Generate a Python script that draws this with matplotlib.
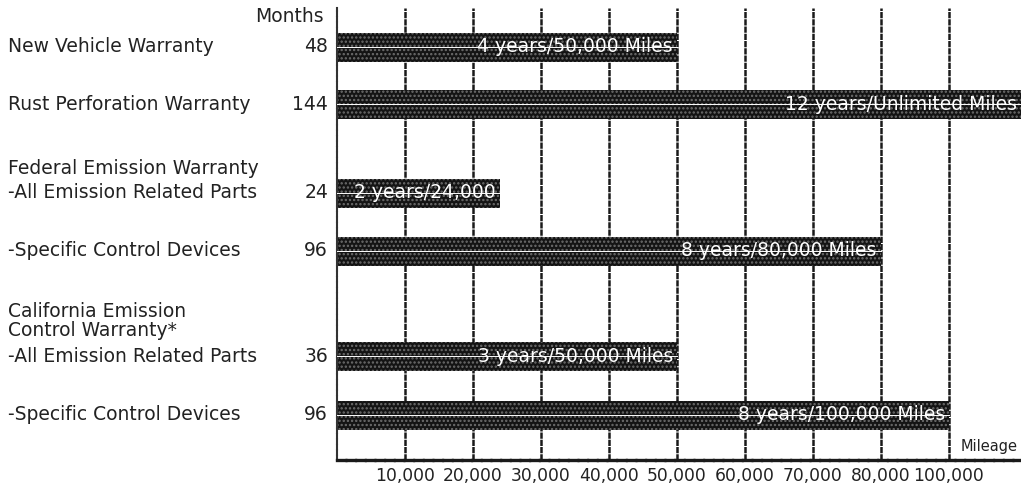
import numpy as np
import matplotlib
matplotlib.use("Agg")
import matplotlib.pyplot as plt
import matplotlib.transforms as mtransforms

plt.rcParams.update({
    "font.family": "DejaVu Sans",
    "font.size": 13.5,
    "hatch.linewidth": 1.1,
})

# data
categories = ["New Vehicle Warranty", "Rust Perforation Warranty",
              "-All Emission Related Parts", "-Specific Control Devices",
              "-All Emission Related Parts", "-Specific Control Devices"]
months = [48, 144, 24, 96, 36, 96]
miles = [50000, np.inf, 24000, 80000, 50000, 100000]   # inf = unlimited
bar_labels = ["4 years/50,000 Miles", "12 years/Unlimited Miles",
              "2 years/24,000", "8 years/80,000 Miles",
              "3 years/50,000 Miles", "8 years/100,000 Miles"]
group_headers = ["Federal Emission Warranty", "California Emission\nControl Warranty*"]
tick_miles = [10000, 20000, 30000, 40000, 50000, 60000, 70000, 80000, 100000]
tick_labels = ["10,000", "20,000", "30,000", "40,000", "50,000",
               "60,000", "70,000", "80,000", "100,000"]

# layout (y in pixels from the top of the image)
W, H = 1021, 487
ROW_Y = [47, 104, 193, 251, 356, 415]
HEADER_Y = [168, 321]
BAR_H = 29
XMAX = 10.06

fig = plt.figure(figsize=(W / 100, H / 100), dpi=100)
ax = fig.add_axes([337 / W, (H - 460) / H, (W - 337) / W, (460 - 8) / H])
ax.set_xlim(0, XMAX)
ax.set_ylim(460, 8)

# the axis is evenly spaced per tick, not linear in miles (80,000 -> 100,000 is one step)
tick_pos = np.arange(1, len(tick_miles) + 1)
def to_x(m):
    if np.isinf(m):
        return XMAX
    return np.interp(m, [0] + tick_miles, np.arange(0, len(tick_miles) + 1))

dark = "#1a1a1a"
for x in tick_pos:
    ax.axvline(x, color=dark, lw=1.8, ls=(0, (2.5, 0.4)), zorder=1)

for y, m, lab in zip(ROW_Y, miles, bar_labels):
    w = to_x(m)
    ax.barh(y, w, height=BAR_H, left=0, color="#141414", edgecolor="#6e6e6e",
            hatch="....", lw=0, zorder=2)
    ax.plot([0, w], [y, y], color="white", lw=0.7, zorder=3)
    ax.text(w - 0.06, y, lab, color="white", ha="right", va="center",
            fontsize=13.5, zorder=4)

for s in ["top", "right"]:
    ax.spines[s].set_visible(False)
ax.spines["left"].set_linewidth(1.5)
ax.spines["left"].set_linestyle((0, (2, 0.6)))
ax.spines["left"].set_color("#333333")
ax.spines["bottom"].set_linewidth(2.4)
ax.spines["bottom"].set_color(dark)
ax.spines["bottom"].set_linestyle((0, (2.5, 0.4)))
ax.set_yticks([])
ax.set_xticks(tick_pos)
ax.set_xticklabels(tick_labels, fontsize=12.3, color="#222222")
ax.tick_params(axis="x", length=0, pad=5)

# left-hand labels
tr = mtransforms.blended_transform_factory(fig.transFigure, ax.transData)
for y, cat, mo in zip(ROW_Y, categories, months):
    ax.text(8 / W, y, cat, transform=tr, ha="left", va="center",
            color="#222222", clip_on=False)
    ax.text(328 / W, y, str(mo), transform=tr, ha="right", va="center",
            color="#222222", clip_on=False)
for y, hdr in zip(HEADER_Y, group_headers):
    ax.text(8 / W, y, hdr, transform=tr, ha="left", va="center",
            color="#222222", linespacing=1.0, clip_on=False)
ax.text(324 / W, 16, "Months", transform=tr, ha="right", va="center",
        color="#222222", clip_on=False)
ax.text(1018 / W, 447, "Mileage", transform=tr, ha="right", va="center",
        fontsize=10.5, color="#222222", clip_on=False)

fig.savefig("out.png", dpi=100)
